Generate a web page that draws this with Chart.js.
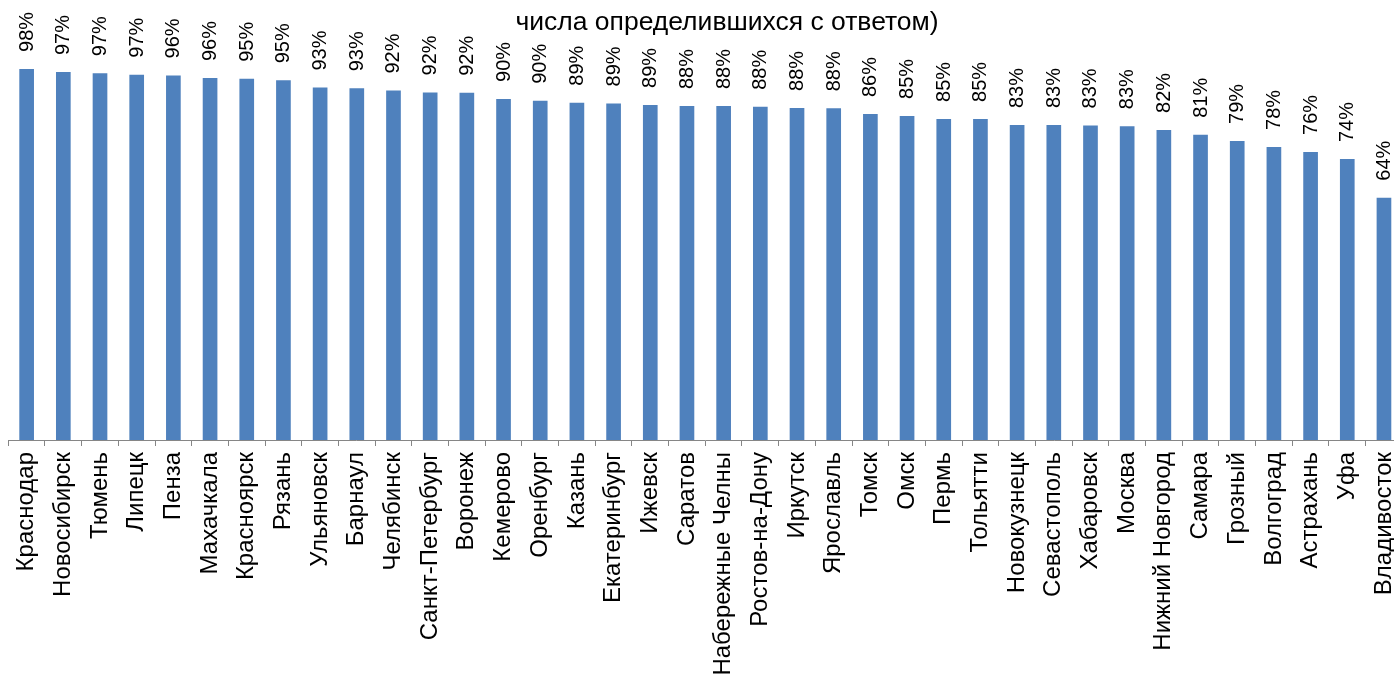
<!DOCTYPE html>
<html>
<head>
<meta charset="utf-8">
<script src="https://cdn.jsdelivr.net/npm/chart.js@4"></script>
<style>
  html, body { margin: 0; padding: 0; background: #fff; overflow: hidden; }
  #wrap { width: 1404px; height: 677px; }
</style>
</head>
<body>
<div id="wrap"><canvas id="cityChart" width="1404" height="677"></canvas></div>
<script>
// --- Данные ---
const cities = [
    'Краснодар', 'Новосибирск', 'Тюмень', 'Липецк', 'Пенза', 'Махачкала', 'Красноярск', 'Рязань',
    'Ульяновск', 'Барнаул', 'Челябинск', 'Санкт-Петербург', 'Воронеж', 'Кемерово', 'Оренбург',
    'Казань', 'Екатеринбург', 'Ижевск', 'Саратов', 'Набережные Челны', 'Ростов-на-Дону', 'Иркутск',
    'Ярославль', 'Томск', 'Омск', 'Пермь', 'Тольятти', 'Новокузнецк', 'Севастополь', 'Хабаровск',
    'Москва', 'Нижний Новгород', 'Самара', 'Грозный', 'Волгоград', 'Астрахань', 'Уфа', 'Владивосток'
];
const shares = [
    98.0, 97.2, 96.9, 96.5, 96.3, 95.6, 95.4, 95.0,
    93.1, 92.9, 92.3, 91.8, 91.7, 90.1, 89.6,
    89.1, 88.9, 88.5, 88.2, 88.2, 88.0, 87.7,
    87.6, 86.1, 85.6, 84.8, 84.8, 83.2, 83.2, 83.1,
    82.9, 81.9, 80.6, 79.0, 77.4, 76.1, 74.2, 64.0
];
const shareLabels = [
    '98%', '97%', '97%', '97%', '96%', '96%', '95%', '95%',
    '93%', '93%', '92%', '92%', '92%', '90%', '90%',
    '89%', '89%', '89%', '88%', '88%', '88%', '88%',
    '88%', '86%', '85%', '85%', '85%', '83%', '83%', '83%',
    '83%', '82%', '81%', '79%', '78%', '76%', '74%', '64%'
];
const titleLine = 'числа определившихся с ответом)';

const FONT = '"Liberation Sans", Arial, sans-serif';

// --- Подписи значений над столбцами (повернуты) ---
const barLabels = {
    id: 'barLabels',
    afterDatasetsDraw(chart) {
        const c = chart.ctx;
        const meta = chart.getDatasetMeta(0);
        c.save();
        c.fillStyle = '#000';
        c.font = '20px ' + FONT;
        c.textAlign = 'left';
        c.textBaseline = 'middle';
        meta.data.forEach((bar, i) => {
            c.save();
            c.translate(bar.x + 0.5, bar.y - 17);
            c.rotate(-Math.PI / 2);
            c.fillText(shareLabels[i], 0, 0);
            c.restore();
        });
        c.restore();
    }
};

// --- Заголовок (видна только вторая строка) ---
const topTitle = {
    id: 'topTitle',
    afterDraw(chart) {
        const c = chart.ctx;
        c.save();
        c.fillStyle = '#000';
        c.font = '26.5px ' + FONT;
        c.textAlign = 'center';
        c.textBaseline = 'alphabetic';
        c.fillText(titleLine, 727, 30);
        c.restore();
    }
};

const ctx = document.getElementById('cityChart').getContext('2d');
new Chart(ctx, {
    type: 'bar',
    data: {
        labels: cities,
        datasets: [{
            data: shares,
            backgroundColor: '#4F81BD',
            borderWidth: 0,
            barPercentage: 0.4,
            categoryPercentage: 1.0
        }]
    },
    options: {
        responsive: false,
        animation: false,
        layout: { padding: { top: 61.4, left: 8.3, right: 1.7, bottom: 0 } },
        plugins: {
            legend: { display: false },
            tooltip: { enabled: false },
            title: { display: false }
        },
        scales: {
            x: {
                grid: {
                    display: true,
                    drawOnChartArea: false,
                    drawTicks: true,
                    tickLength: 6,
                    color: '#868686',
                    offset: true
                },
                border: { display: true, color: '#868686', width: 1 },
                ticks: {
                    autoSkip: false,
                    minRotation: 90,
                    maxRotation: 90,
                    padding: 6,
                    color: '#000',
                    font: { family: FONT, size: 24 }
                },
                afterFit(scale) {
                    scale.height = 237;
                    scale.paddingLeft = 0;
                    scale.paddingRight = 0;
                }
            },
            y: {
                display: false,
                min: 0,
                max: 100
            }
        }
    },
    plugins: [barLabels, topTitle]
});
</script>
</body>
</html>
